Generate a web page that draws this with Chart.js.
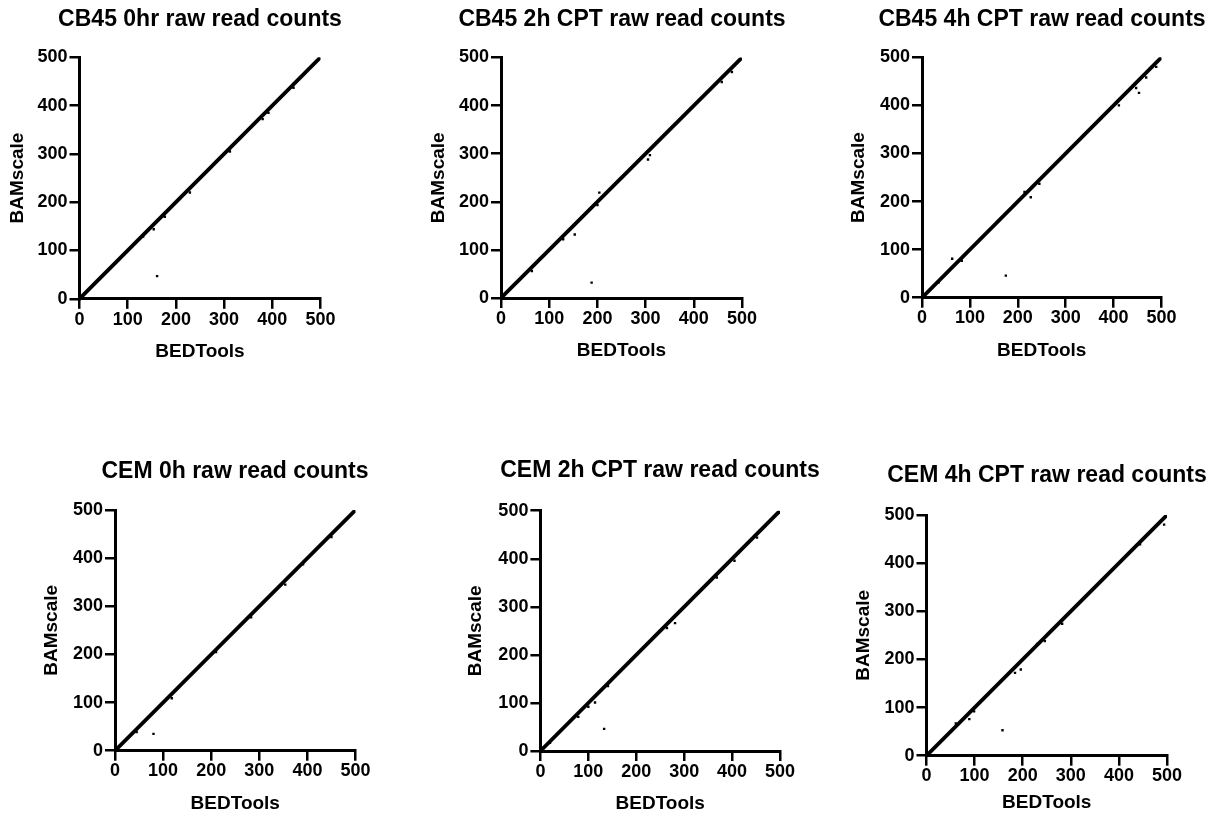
<!DOCTYPE html>
<html>
<head>
<meta charset="utf-8">
<title>BEDTools vs BAMscale raw read counts</title>
<script src="https://cdn.jsdelivr.net/npm/chart.js@4.4.0/dist/chart.umd.min.js"></script>
<style>
  html,body{margin:0;padding:0;background:#fff;width:1214px;height:819px;overflow:hidden;}
  canvas{position:absolute;}
</style>
</head>
<body>
<script>
// Six GraphPad-style scatter panels: BEDTools vs BAMscale raw read counts.
const INK='#000';
const TITLES=['CB45 0hr raw read counts','CB45 2h CPT raw read counts','CB45 4h CPT raw read counts',
  'CEM 0h raw read counts','CEM 2h CPT raw read counts','CEM 4h CPT raw read counts'];
const X_LABEL='BEDTools', Y_LABEL='BAMscale';
const TICKS=[0,100,200,300,400,500];

// the bulk of the genes sit right on y = x over the whole range
const DIAG_X=[0,500], DIAG_Y=[0,500];

// genes that visibly leave the diagonal
const CB45_0H_X=[161,154,177,132,229,312,380,392,444];
const CB45_0H_Y=[47,144,170,129,220,305,372,385,437];
const CB45_2H_X=[188,204,153,305,309,129,64,458,479,200];
const CB45_2H_Y=[32,219,132,288,297,122,56,449,470,193];
const CB45_4H_X=[175,63,227,245,411,453,447,489,468,214,83,35];
const CB45_4H_Y=[46,81,209,237,400,426,436,480,458,220,77,32];
const CEM_0H_X=[80,118,354,391,283,210,45,450];
const CEM_0H_Y=[35,109,345,387,277,205,39,444];
const CEM_2H_X=[133,100,114,141,281,264,405,452,368,79,20];
const CEM_2H_Y=[46,92,101,135,266,256,396,444,361,71,17];
const CEM_4H_X=[158,196,184,89,99,61,282,246,444,494,230];
const CEM_4H_Y=[53,179,172,76,92,67,274,238,439,480,232];

const OFF_X=[CB45_0H_X,CB45_2H_X,CB45_4H_X,CEM_0H_X,CEM_2H_X,CEM_4H_X];
const OFF_Y=[CB45_0H_Y,CB45_2H_Y,CB45_4H_Y,CEM_0H_Y,CEM_2H_Y,CEM_4H_Y];

// page layout: plot box edges (L,R,T,B), y-title x, x-title y, chart title y
const PANELS=[
  {L:79.5, R:320.5, T:57.3, B:298.8, yt:18,    xt:351.7, tt:19.5},
  {L:501,  R:742,   T:57.5, B:298,   yt:439,   xt:351,   tt:19.5},
  {L:922,  R:1161.5,T:57.3, B:297.7, yt:859,   xt:351,   tt:19.5},
  {L:115,  R:355.5, T:510,  B:750.7, yt:51.7,  xt:803.3, tt:472},
  {L:540.4,R:780,   T:510.7,B:751,   yt:475.5, xt:804,   tt:471},
  {L:926.5,R:1167,  T:515,  B:755.7, yt:864,   xt:803,   tt:476}
];

Chart.defaults.font.family="'Liberation Sans', Arial, Helvetica, sans-serif";
Chart.defaults.font.weight='bold';

const W=400, TITLE_PX=23, TICK_PX=18, AXT_PX=19;
const setTicks=s=>{ s.ticks=TICKS.map(v=>({value:v})); };

PANELS.forEach((p,i)=>{
  const cl=Math.round((p.L+p.R)/2-W/2), ct=Math.round(p.tt-TITLE_PX*0.6);
  const H=Math.round(p.xt+AXT_PX*0.6-ct);
  const cv=document.createElement('canvas');
  cv.width=W; cv.height=H; cv.style.left=cl+'px'; cv.style.top=ct+'px';
  document.body.appendChild(cv);
  const wy=p.L-cl, wr=W-wy-(p.R-p.L), hx=ct+H-p.B;
  const axisCommon={type:'linear',min:0,max:500,
    border:{display:true,color:INK,width:3},
    grid:{drawOnChartArea:false,drawTicks:true,tickLength:10,color:INK,lineWidth:2.5},
    afterBuildTicks:setTicks};
  new Chart(cv,{type:'scatter',
    data:{datasets:[
      {data:DIAG_X.map((x,k)=>({x,y:DIAG_Y[k]})),showLine:true,borderColor:INK,borderWidth:3.8,
       borderCapStyle:'butt',pointRadius:0},
      {data:OFF_X[i].map((x,k)=>({x,y:OFF_Y[i][k]})),backgroundColor:INK,borderWidth:0,
       pointStyle:'rect',pointRadius:1.7}
    ]},
    options:{responsive:false,animation:false,layout:{padding:0},
      plugins:{legend:{display:false},tooltip:{enabled:false},
        title:{display:true,text:TITLES[i],color:INK,font:{size:TITLE_PX,weight:'bold'},
          padding:{top:0,bottom:p.T-ct-TITLE_PX*1.2}}},
      scales:{
        x:Object.assign({},axisCommon,{position:'bottom',
          afterFit:s=>{s.height=hx;},
          ticks:{color:INK,padding:0,maxRotation:0,font:{size:TICK_PX,weight:'bold'}},
          title:{display:true,text:X_LABEL,color:INK,font:{size:AXT_PX,weight:'bold'},padding:0}}),
        y:Object.assign({},axisCommon,{position:'left',
          afterFit:s=>{s.width=wy;},
          ticks:{color:INK,padding:2,font:{size:TICK_PX,weight:'bold'}},
          title:{display:true,text:Y_LABEL,color:INK,font:{size:AXT_PX,weight:'bold'},
            padding:{top:p.yt-AXT_PX*0.6-cl,bottom:0}}}),
        // empty right-hand spacer so the title stays centred over the plot
        y2:{type:'linear',position:'right',min:0,max:1,afterFit:s=>{s.width=wr;},
          grid:{display:false},border:{display:false},ticks:{display:false}}
      }}
  });
});
</script>
</body>
</html>
